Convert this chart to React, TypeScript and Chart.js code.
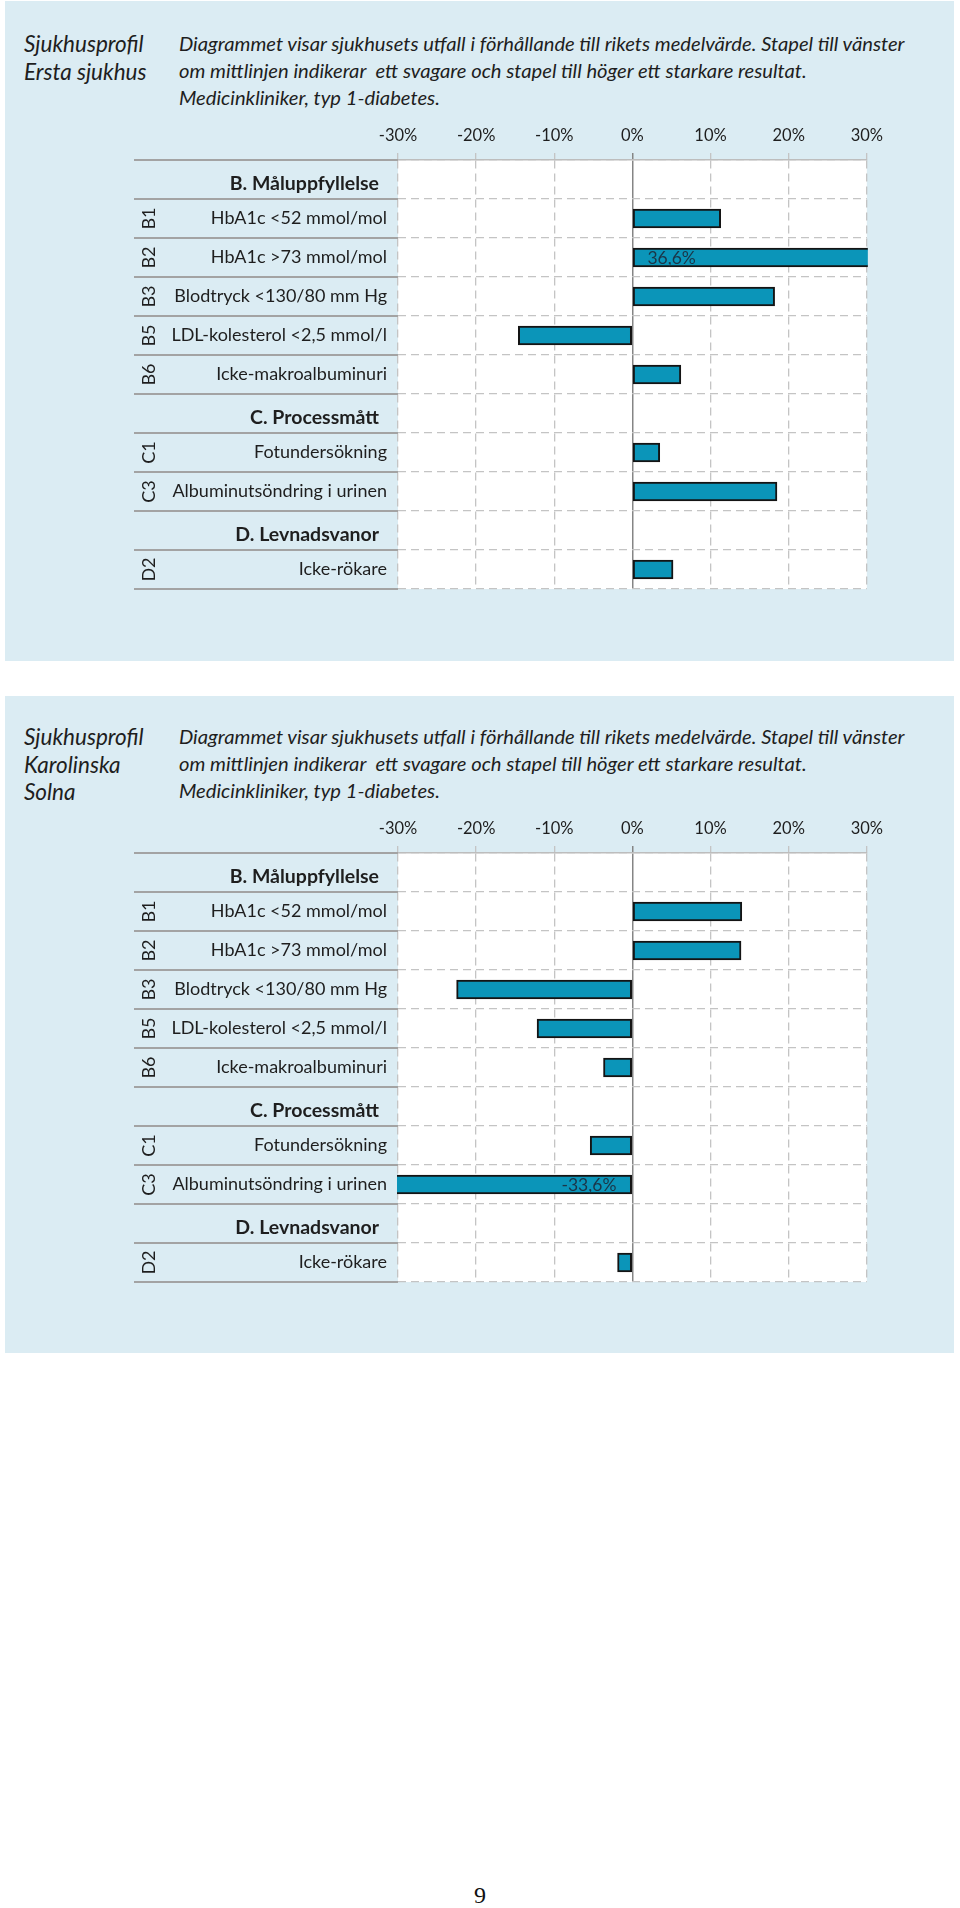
import React, { useEffect, useRef } from 'react';
import { Chart, registerables } from 'chart.js';

Chart.register(...registerables);

// ---------- data ----------
const rowCodes = ['', 'B1', 'B2', 'B3', 'B5', 'B6', '', 'C1', 'C3', '', 'D2'];
const rowLabels = [
  'B. Måluppfyllelse',
  'HbA1c <52 mmol/mol',
  'HbA1c >73 mmol/mol',
  'Blodtryck <130/80 mm Hg',
  'LDL-kolesterol <2,5 mmol/l',
  'Icke-makroalbuminuri',
  'C. Processmått',
  'Fotundersökning',
  'Albuminutsöndring i urinen',
  'D. Levnadsvanor',
  'Icke-rökare',
];
const headerRows = [true, false, false, false, false, false, true, false, false, true, false];
const xMin = -30;
const xMax = 30;
const xStep = 10;
const erstaValues = [null, 11.3, 36.6, 18.2, -14.6, 6.2, null, 3.5, 18.5, null, 5.2];
const karolinskaValues = [null, 14.0, 13.9, -22.5, -12.2, -3.7, null, -5.4, -33.6, null, -1.9];
const erstaTitle = ['Sjukhusprofil', 'Ersta sjukhus'];
const karolinskaTitle = ['Sjukhusprofil', 'Karolinska', 'Solna'];
const descriptionLines = [
  'Diagrammet visar sjukhusets utfall i förhållande till rikets medelvärde. Stapel till vänster',
  'om mittlinjen indikerar  ett svagare och stapel till höger ett starkare resultat.',
  'Medicinkliniker, typ 1-diabetes.',
];
const pageNumber = '9';

// ---------- style ----------
const FONT = 'Lato, "Noto Sans", sans-serif';
const PANEL_BG = '#dbecf3';
const BAR_FILL = '#0b95b9';
const BAR_BORDER = '#141414';
const GRID = '#c4c4c4';
const TEXT = '#1e1e1e';
const CANVAS_LEFT = 130;
const CANVAS_W = 760;
const CANVAS_H = 500;

const fmt = (v: number) => v.toFixed(1).replace('.', ',') + '%';

const rowPlugin = {
  id: 'rowPlugin',
  beforeDraw(chart: any) {
    const { ctx, chartArea } = chart;
    ctx.save();
    ctx.fillStyle = '#ffffff';
    ctx.fillRect(chartArea.left, chartArea.top, chartArea.right - chartArea.left, chartArea.bottom - chartArea.top);
    ctx.restore();
  },
  afterDraw(chart: any) {
    const { ctx, chartArea } = chart;
    const y = chart.scales.y;
    const x = chart.scales.x;
    const n = rowLabels.length;
    const half = (y.getPixelForValue(1) - y.getPixelForValue(0)) / 2;
    ctx.save();
    // solid separators in label area
    ctx.strokeStyle = '#a3a3a3';
    ctx.lineWidth = 2;
    for (let i = 0; i <= n; i++) {
      const py = i < n ? y.getPixelForValue(i) - half : y.getPixelForValue(n - 1) + half;
      ctx.beginPath();
      ctx.moveTo(4, py);
      ctx.lineTo(chartArea.left, py);
      ctx.stroke();
    }
    // labels
    ctx.fillStyle = TEXT;
    ctx.textBaseline = 'middle';
    for (let i = 0; i < n; i++) {
      const cy = y.getPixelForValue(i);
      if (headerRows[i]) {
        ctx.font = `bold 19.5px ${FONT}`;
        ctx.textAlign = 'right';
        ctx.fillText(rowLabels[i], 249, cy + 4);
      } else {
        ctx.font = `18px ${FONT}`;
        ctx.textAlign = 'right';
        ctx.fillText(rowLabels[i], 257, cy);
        if (rowCodes[i]) {
          ctx.save();
          ctx.translate(19, cy);
          ctx.rotate(-Math.PI / 2);
          ctx.textAlign = 'center';
          ctx.fillText(rowCodes[i], 0, 0);
          ctx.restore();
        }
      }
    }
    // value labels for bars beyond the axis range
    const data = chart.data.datasets[0].data;
    const zero = x.getPixelForValue(0);
    ctx.font = `17.5px ${FONT}`;
    ctx.fillStyle = '#1b3547';
    for (let i = 0; i < n; i++) {
      const v = data[i];
      if (v == null) continue;
      if (v > xMax) {
        ctx.textAlign = 'left';
        ctx.fillText(fmt(v), zero + 15, y.getPixelForValue(i) + 1);
      } else if (v < xMin) {
        ctx.textAlign = 'right';
        ctx.fillText(fmt(v), zero - 16, y.getPixelForValue(i) + 1);
      }
    }
    ctx.restore();
  },
};

function BarChart({ values }: { values: (number | null)[] }) {
  const ref = useRef<HTMLCanvasElement>(null);
  useEffect(() => {
    if (!ref.current) return;
    const chart = new Chart(ref.current, {
      type: 'bar',
      data: {
        labels: rowLabels,
        datasets: [
          {
            data: values as any,
            backgroundColor: BAR_FILL,
            borderColor: BAR_BORDER,
            borderWidth: 2,
            borderSkipped: false,
            barThickness: 19,
            clip: 1,
          } as any,
        ],
      },
      options: {
        indexAxis: 'y',
        animation: false,
        responsive: false,
        maintainAspectRatio: false,
        events: [],
        layout: { padding: { left: 268, right: 21, top: 20, bottom: 11 } },
        plugins: { legend: { display: false }, tooltip: { enabled: false } },
        scales: {
          x: {
            position: 'top',
            min: xMin,
            max: xMax,
            afterFit: (s: any) => { s.height = 40; },
            ticks: {
              stepSize: xStep,
              padding: 7,
              color: TEXT,
              font: { family: FONT, size: 16.5 },
              callback: (v: any) => v + '%',
            },
            grid: {
              color: (c: any) => (c.tick && c.tick.value === 0 ? '#858585' : GRID),
              lineWidth: (c: any) => (c.tick && c.tick.value === 0 ? 1.5 : 1.3),
              drawTicks: true,
              tickLength: 7,
              tickColor: (c: any) => (c.tick && c.tick.value === 0 ? '#858585' : GRID),
            },
            border: {
              display: true,
              color: '#bdbdbd',
              width: 1.5,
              dash: (c: any) => (c.tick && c.tick.value === 0 ? [] : [8, 5]),
            },
          },
          y: {
            afterFit: (s: any) => { s.width = 0; },
            ticks: { display: false },
            grid: { color: GRID, lineWidth: 1.3, drawTicks: false, offset: true },
            border: { display: false, dash: [8, 5] },
          },
        },
      },
      plugins: [rowPlugin],
    } as any);
    return () => chart.destroy();
  }, [values]);
  return <canvas ref={ref} width={CANVAS_W} height={CANVAS_H} style={{ position: 'absolute', left: CANVAS_LEFT, top: 0, width: CANVAS_W, height: CANVAS_H }} />;
}

function Panel({ top, height, contentTop, title, values }: { top: number; height: number; contentTop: number; title: string[]; values: (number | null)[] }) {
  const textStyle: React.CSSProperties = {
    position: 'absolute',
    fontFamily: FONT,
    fontStyle: 'italic',
    fontSize: 20.2,
    lineHeight: '27px',
    color: TEXT,
    whiteSpace: 'pre',
  };
  return (
    <>
      <div style={{ position: 'absolute', left: 5, top, width: 949, height, background: PANEL_BG }} />
      <div style={{ ...textStyle, left: 24, top: contentTop + 30, fontSize: 22.5, lineHeight: '27.5px' }}>
        {title.map((t, i) => <div key={i}>{t}</div>)}
      </div>
      <div style={{ ...textStyle, left: 179, top: contentTop + 30 }}>
        {descriptionLines.map((t, i) => <div key={i}>{t}</div>)}
      </div>
      <div style={{ position: 'absolute', left: 0, top: contentTop + 100, width: 960, height: CANVAS_H }}>
        <BarChart values={values} />
      </div>
    </>
  );
}

export default function App() {
  return (
    <div style={{ position: 'absolute', left: 0, top: 0, width: 960, height: 1908, background: '#ffffff', overflow: 'hidden' }}>
      <Panel top={1} height={660} contentTop={0} title={erstaTitle} values={erstaValues} />
      <Panel top={696} height={657} contentTop={693} title={karolinskaTitle} values={karolinskaValues} />
      <div style={{ position: 'absolute', left: 0, width: 960, top: 1881, textAlign: 'center', fontFamily: '"Liberation Serif", serif', fontSize: 24, lineHeight: '28px', color: '#111' }}>
        {pageNumber}
      </div>
    </div>
  );
}
